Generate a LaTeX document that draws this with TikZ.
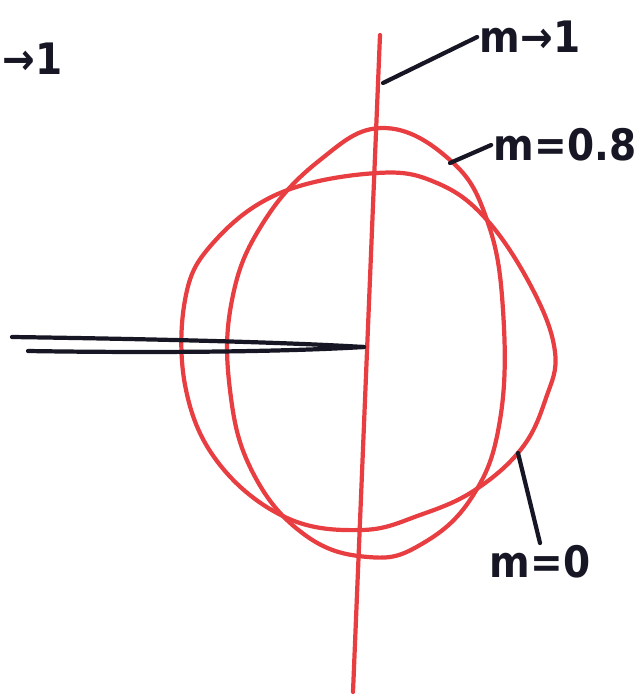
\documentclass[tikz,border=0pt]{standalone}
\usepackage{fontspec}
\setmainfont{DejaVu Sans Condensed}
\definecolor{penred}{RGB}{232,62,66}
\definecolor{penink}{RGB}{22,22,36}

\begin{document}
\begin{tikzpicture}[x=0.03cm, y=-0.03cm]
  \tikzset{
    redpen/.style={penred, line width=3.6pt, line cap=round, line join=round},
    inkpen/.style={penink, line width=3.6pt, line cap=round},
    mlabel/.style={font=\fontsize{37}{42}\selectfont\bfseries, text=penink, inner sep=2pt}
  }
  \useasboundingbox (0,0) rectangle (643,695);
  % draw the vertical axis (m -> 1)
  \coordinate (axis_top) at (380,35);
  \coordinate (axis_bot) at (353,692);
  \draw[redpen] (axis_top) -- (axis_bot);
  % draw the tall closed curve (m = 0.8)
  \draw[redpen] plot[smooth cycle, tension=0.7] coordinates {
    (383,128) (450,160) (487,220) (503,310) (500,420) (472,497) (420,545)
    (368,557) (305,535) (253,473) (230,390) (232,300) (263,223) (320,160)};
  % draw the wide closed curve (m = 0)
  \draw[redpen] plot[smooth cycle, tension=0.65] coordinates {
    (377,173) (437,183) (487,220) (533,290) (555,352) (546,398) (522,448)
    (475,490) (420,515) (362,530) (287,518) (220,465) (186,390) (185,300)
    (213,243) (280,193)};
  % draw the black double bar ending on the axis
  \coordinate (bar_tip) at (364,347);
  \coordinate (bar_top) at (12,337);
  \coordinate (bar_bot) at (28,351);
  \draw[inkpen] (bar_top) .. controls (150,339) and (280,342) .. (bar_tip);
  \draw[inkpen] (bar_bot) .. controls (150,353) and (280,352) .. (bar_tip);
  % draw labels and their pointers
  \node[mlabel] (lbl_one) at (530,37) {m→1};
  \coordinate (pt_one) at (383,83);
  \draw[inkpen] (lbl_one.west) -- (pt_one);
  \node[mlabel] (lbl_eight) at (565,145) {m=0.8};
  \coordinate (pt_eight) at (450,163);
  \draw[inkpen] (lbl_eight.west) -- (pt_eight);
  \node[mlabel] (lbl_zero) at (540,562) {m=0};
  \coordinate (pt_zero) at (518,453);
  \draw[inkpen] (lbl_zero.north) -- (pt_zero);
  \node[mlabel, anchor=west] (lbl_left) at (0,59) {→1};
\end{tikzpicture}
\end{document}
